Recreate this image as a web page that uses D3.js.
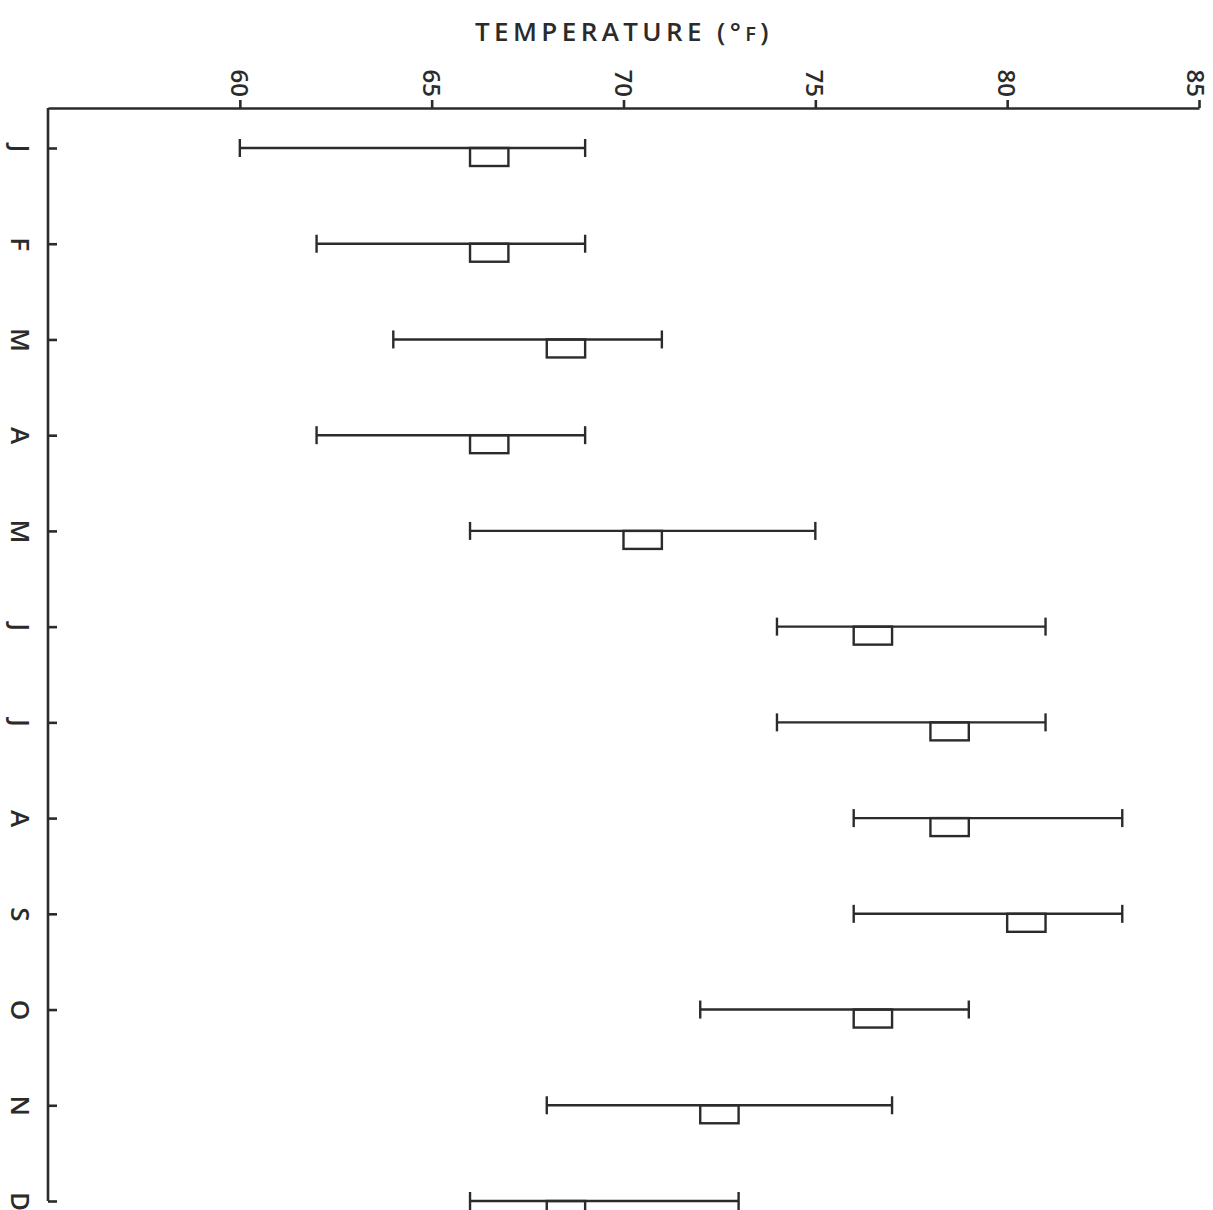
<!DOCTYPE html>
<html>
<head>
<meta charset="utf-8">
<script src="https://cdn.jsdelivr.net/npm/d3@7"></script>
<style>
  body { margin: 0; background: #fff; }
  svg { display: block; }
  text { font-family: "Open Sans", "DejaVu Sans", sans-serif; fill: #2b2b2b; }
</style>
</head>
<body>
<script>
// Monthly temperature ranges (deg F)
const months = ["J", "F", "M", "A", "M", "J", "J", "A", "S", "O", "N", "D"];
const tempMin = [60, 62, 64, 62, 66, 74, 74, 76, 76, 72, 68, 66];
const tempMax = [69, 69, 71, 69, 75, 81, 81, 83, 83, 79, 77, 73];
const boxLo = [66, 66, 68, 66, 70, 76, 78, 78, 80, 76, 72, 68];
const boxHi = [67, 67, 69, 67, 71, 77, 79, 79, 81, 77, 73, 69];
const tempTicks = [60, 65, 70, 75, 80, 85];

const width = 1213, height = 1210;
const ink = "#2b2b2b";
const font = "'Open Sans', 'DejaVu Sans', sans-serif";

const svg = d3.select("body").append("svg")
    .attr("width", width)
    .attr("height", height);

const x = d3.scaleLinear().domain([55, 85]).range([48, 1199]);
const y = d3.scalePoint().domain(d3.range(months.length)).range([148, 1201]);

const axisTopY = 108;

// --- Top temperature axis ---
const gx = svg.append("g")
    .attr("transform", `translate(0,${axisTopY})`)
    .call(d3.axisTop(x).tickValues(tempTicks).tickSize(8).tickSizeOuter(0).tickPadding(0));

gx.select(".domain").attr("stroke", ink).attr("stroke-width", 2.6);
gx.selectAll(".tick line").attr("stroke", ink).attr("stroke-width", 2.6);
gx.selectAll(".tick text")
    .attr("y", null)
    .attr("dy", null)
    .attr("transform", d => `translate(${d === 85 ? -3 : 0},-11) rotate(90)`)
    .attr("text-anchor", "end")
    .attr("dominant-baseline", "central")
    .style("font-size", "24px")
    .style("font-weight", "600")
    .style("font-family", font)
    .attr("fill", ink);

// --- Left month axis (ticks point inward) ---
const gy = svg.append("g")
    .attr("transform", `translate(${x.range()[0]},0)`)
    .call(d3.axisLeft(y).tickSize(-9).tickSizeOuter(0).tickFormat(i => months[i]));

gy.select(".domain")
    .attr("d", `M0,${axisTopY}V${y.range()[1]}`)
    .attr("stroke", ink).attr("stroke-width", 2.6);
gy.selectAll(".tick line").attr("stroke", ink).attr("stroke-width", 2.6);
gy.selectAll(".tick text")
    .attr("x", null)
    .attr("dy", null)
    .attr("transform", "translate(-27,0) rotate(90)")
    .attr("text-anchor", "middle")
    .attr("dominant-baseline", "central")
    .style("font-size", "26px")
    .style("font-weight", "600")
    .style("font-family", font)
    .attr("fill", ink);

// --- Title ---
const title = svg.append("text")
    .attr("x", 624)
    .attr("y", 41)
    .attr("text-anchor", "middle")
    .style("font-size", "26px")
    .style("font-weight", "600")
    .style("letter-spacing", "4.4px")
    .style("font-family", font)
    .attr("fill", ink);
title.append("tspan").text("TEMPERATURE (°");
title.append("tspan").style("font-size", "20px").text("F");
title.append("tspan").text(")");

// --- Range bars ---
const rows = svg.append("g").selectAll("g")
    .data(months.map((m, i) => i))
    .join("g")
    .attr("transform", i => `translate(0,${y(i)})`);

const capH = 9, boxH = 18, lw = 2.4;

rows.append("line")
    .attr("x1", i => x(tempMin[i]))
    .attr("x2", i => x(tempMax[i]))
    .attr("stroke", ink).attr("stroke-width", lw);

rows.append("line")
    .attr("x1", i => x(tempMin[i])).attr("x2", i => x(tempMin[i]))
    .attr("y1", -capH).attr("y2", capH)
    .attr("stroke", ink).attr("stroke-width", lw);

rows.append("line")
    .attr("x1", i => x(tempMax[i])).attr("x2", i => x(tempMax[i]))
    .attr("y1", -capH).attr("y2", capH)
    .attr("stroke", ink).attr("stroke-width", lw);

rows.append("rect")
    .attr("x", i => x(boxLo[i]))
    .attr("y", 0)
    .attr("width", i => x(boxHi[i]) - x(boxLo[i]))
    .attr("height", boxH)
    .attr("fill", "none")
    .attr("stroke", ink).attr("stroke-width", lw);
</script>
</body>
</html>
